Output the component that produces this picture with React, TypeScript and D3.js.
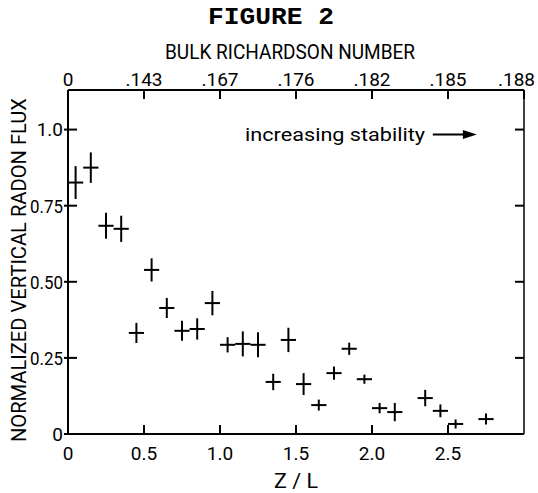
import React from 'react';
import * as d3 from 'd3';

// Z/L values (bin centres) and normalized radon flux with error half-widths
const zl = [0.05, 0.15, 0.25, 0.35, 0.45, 0.55, 0.65, 0.75, 0.85, 0.95, 1.05, 1.15, 1.25,
  1.35, 1.45, 1.55, 1.65, 1.75, 1.85, 1.95, 2.05, 2.15, 2.35, 2.45, 2.55, 2.75];
const flux = [0.826, 0.875, 0.684, 0.674, 0.332, 0.539, 0.414, 0.339, 0.345, 0.43, 0.293, 0.296, 0.293,
  0.171, 0.309, 0.164, 0.095, 0.2, 0.28, 0.18, 0.085, 0.072, 0.118, 0.076, 0.033, 0.049];
const fluxErr = [0.054, 0.05, 0.043, 0.043, 0.033, 0.038, 0.033, 0.033, 0.035, 0.04, 0.025, 0.041, 0.041,
  0.027, 0.04, 0.036, 0.018, 0.022, 0.02, 0.015, 0.017, 0.03, 0.027, 0.021, 0.015, 0.018];
const zlErr = [0.05, 0.05, 0.05, 0.05, 0.05, 0.05, 0.05, 0.05, 0.05, 0.05, 0.05, 0.05, 0.05,
  0.05, 0.05, 0.05, 0.05, 0.05, 0.05, 0.05, 0.05, 0.05, 0.05, 0.05, 0.05, 0.05];

const bottomTicks = [0, 0.5, 1.0, 1.5, 2.0, 2.5];
const bottomTickLabels = ['0', '0.5', '1.0', '1.5', '2.0', '2.5'];
const topTicks = [0, 0.5, 1.0, 1.5, 2.0, 2.5, 3.0];
const richardsonLabels = ['0', '.143', '.167', '.176', '.182', '.185', '.188'];
const yTicks = [0, 0.25, 0.5, 0.75, 1.0];
const yTickLabels = ['0', '0.25', '0.50', '0.75', '1.0'];

const SANS = "Roboto, 'DejaVu Sans', sans-serif";

const App = () => {
  const width = 538;
  const height = 493;
  const margin = { top: 90, right: 14, bottom: 59, left: 68 };

  const x = d3.scaleLinear().domain([0, 3.0]).range([margin.left, width - margin.right]);
  const y = d3.scaleLinear().domain([0, 1.13]).range([height - margin.bottom, margin.top]);

  const [x0, x1] = x.range();
  const [yb, yt] = y.range();
  const tick = 9;

  // annotation anchors in data space
  const noteX = x(1.165);
  const noteY = y(0.964);
  const arrowY = y(0.984);
  const arrowStart = x(2.40);
  const arrowEnd = x(2.69);

  return (
    <svg width={width} height={height} style={{ position: 'absolute', left: 0, top: 0, background: '#fff' }}>
      <text x={271} y={24} textAnchor="middle" fontFamily="'Liberation Mono', 'Courier New', monospace"
        fontWeight="bold" fontSize={23} textLength={126} lengthAdjust="spacingAndGlyphs">FIGURE 2</text>

      <text x={(x0 + x1) / 2 - 6} y={59} textAnchor="middle" fontFamily={SANS} fontSize={20}
        textLength={250} lengthAdjust="spacingAndGlyphs">BULK RICHARDSON NUMBER</text>

      {/* frame */}
      <line x1={x0} x2={x1} y1={yt} y2={yt} stroke="#000" strokeWidth={2} />
      <line x1={x0} x2={x1} y1={yb} y2={yb} stroke="#000" strokeWidth={2} />
      <line x1={x0} x2={x0} y1={yt} y2={yb} stroke="#000" strokeWidth={2} />
      <line x1={x1} x2={x1} y1={yt} y2={yb} stroke="#000" strokeWidth={1.5} />

      {/* top axis: bulk Richardson number */}
      {topTicks.map((t, i) => {
        const last = i === topTicks.length - 1;
        return (
          <g key={`top-${i}`}>
            <line x1={x(t)} x2={x(t)} y1={yt} y2={yt + tick} stroke="#000" strokeWidth={2} />
            <text x={last ? width - 3 : x(t)} y={yt - 4} textAnchor={last ? 'end' : 'middle'}
              fontFamily={SANS} fontSize={19}>{richardsonLabels[i]}</text>
          </g>
        );
      })}

      {/* bottom axis */}
      {bottomTicks.map((t, i) => (
        <g key={`bot-${i}`}>
          <line x1={x(t)} x2={x(t)} y1={yb} y2={yb - tick} stroke="#000" strokeWidth={2} />
          <text x={x(t)} y={yb + 26} textAnchor="middle" fontFamily={SANS} fontSize={19}>{bottomTickLabels[i]}</text>
        </g>
      ))}
      <text x={(x0 + x1) / 2} y={488} textAnchor="middle" fontFamily={SANS} fontSize={20}
        textLength={44} lengthAdjust="spacingAndGlyphs">Z / L</text>

      {/* left + right axes */}
      {yTicks.map((t, i) => (
        <g key={`y-${i}`}>
          <line x1={x0 - 4} x2={x0 + tick} y1={y(t)} y2={y(t)} stroke="#000" strokeWidth={2} />
          <line x1={x1} x2={x1 - tick} y1={y(t)} y2={y(t)} stroke="#000" strokeWidth={2} />
          <text x={x0 - 5} y={y(t)} dy="0.36em" textAnchor="end" fontFamily={SANS} fontSize={19}
            textLength={yTickLabels[i].length > 3 ? 33 : undefined} lengthAdjust="spacingAndGlyphs">{yTickLabels[i]}</text>
        </g>
      ))}
      <text transform={`translate(26,${270}) rotate(-90)`} textAnchor="middle" fontFamily={SANS} fontSize={20}
        textLength={344} lengthAdjust="spacingAndGlyphs">NORMALIZED VERTICAL RADON FLUX</text>

      {/* annotation */}
      <text x={noteX} y={noteY} fontFamily={SANS} fontSize={19} textLength={180} lengthAdjust="spacingAndGlyphs">increasing stability</text>
      <line x1={arrowStart} x2={arrowEnd - 8} y1={arrowY} y2={arrowY} stroke="#000" strokeWidth={2} />
      <path d={`M${arrowEnd},${arrowY} L${arrowEnd - 14},${arrowY - 4.5} L${arrowEnd - 14},${arrowY + 4.5} Z`} fill="#000" />

      {/* error crosses */}
      {zl.map((v, i) => (
        <g key={`pt-${i}`} stroke="#000" strokeWidth={2}>
          <line x1={x(v - zlErr[i])} x2={x(v + zlErr[i])} y1={y(flux[i])} y2={y(flux[i])} />
          <line x1={x(v)} x2={x(v)} y1={y(flux[i] - fluxErr[i])} y2={y(flux[i] + fluxErr[i])} />
        </g>
      ))}
    </svg>
  );
};

export default App;
